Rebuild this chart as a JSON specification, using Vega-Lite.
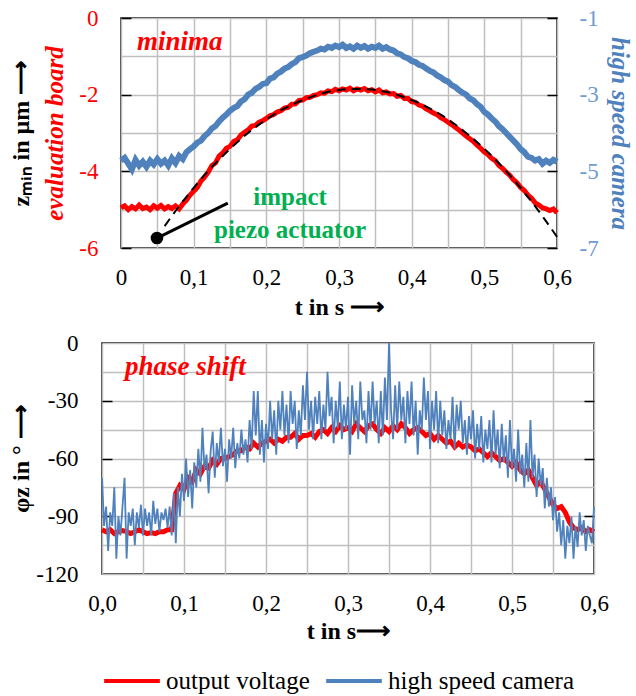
{
"$schema": "https://vega.github.io/schema/vega-lite/v6.json",
"padding": {"left": 8, "top": 6, "right": 2, "bottom": 2},
"config": {
  "font": "Liberation Serif",
  "view": {"stroke": "black", "strokeWidth": 1.5},
  "axis": {"labelFont": "Liberation Serif", "titleFont": "Liberation Serif", "labelFontSize": 23, "titleFontSize": 24, "titleFontWeight": "bold", "labelColor": "black", "titleColor": "black", "domain": false, "gridColor": "#bfbfbf", "gridWidth": 1.5, "gridOpacity": 1, "tickColor": "black", "tickWidth": 1.5, "labelOverlap": false, "labelFlush": false},
  "legend": {"labelFont": "Liberation Serif", "labelFontSize": 25, "labelColor": "black", "labelLimit": 400},
  "text": {"font": "Liberation Serif"}
},
"datasets": {
"redTop": [{"t":0,"v":-4.95},{"t":0.005,"v":-4.9},{"t":0.01,"v":-5.0},{"t":0.015,"v":-4.92},{"t":0.02,"v":-4.98},{"t":0.025,"v":-4.88},{"t":0.03,"v":-4.97},{"t":0.035,"v":-4.93},{"t":0.04,"v":-5.0},{"t":0.045,"v":-4.9},{"t":0.05,"v":-4.96},{"t":0.055,"v":-4.89},{"t":0.06,"v":-4.98},{"t":0.065,"v":-4.92},{"t":0.07,"v":-4.97},{"t":0.075,"v":-4.9},{"t":0.08,"v":-4.98},{"t":0.085,"v":-4.85},{"t":0.09,"v":-4.75},{"t":0.095,"v":-4.62},{"t":0.1,"v":-4.52},{"t":0.105,"v":-4.42},{"t":0.11,"v":-4.25},{"t":0.115,"v":-4.15},{"t":0.12,"v":-4.02},{"t":0.125,"v":-3.85},{"t":0.13,"v":-3.78},{"t":0.135,"v":-3.6},{"t":0.14,"v":-3.52},{"t":0.145,"v":-3.4},{"t":0.15,"v":-3.35},{"t":0.155,"v":-3.22},{"t":0.16,"v":-3.18},{"t":0.165,"v":-3.05},{"t":0.17,"v":-2.98},{"t":0.175,"v":-2.92},{"t":0.18,"v":-2.82},{"t":0.185,"v":-2.8},{"t":0.19,"v":-2.72},{"t":0.195,"v":-2.68},{"t":0.2,"v":-2.62},{"t":0.205,"v":-2.55},{"t":0.21,"v":-2.52},{"t":0.215,"v":-2.45},{"t":0.22,"v":-2.42},{"t":0.225,"v":-2.35},{"t":0.23,"v":-2.33},{"t":0.235,"v":-2.25},{"t":0.24,"v":-2.24},{"t":0.245,"v":-2.15},{"t":0.25,"v":-2.14},{"t":0.255,"v":-2.08},{"t":0.26,"v":-2.07},{"t":0.265,"v":-2.02},{"t":0.27,"v":-2.0},{"t":0.275,"v":-1.95},{"t":0.28,"v":-1.96},{"t":0.285,"v":-1.9},{"t":0.29,"v":-1.92},{"t":0.295,"v":-1.86},{"t":0.3,"v":-1.9},{"t":0.305,"v":-1.85},{"t":0.31,"v":-1.88},{"t":0.315,"v":-1.83},{"t":0.32,"v":-1.9},{"t":0.325,"v":-1.85},{"t":0.33,"v":-1.88},{"t":0.335,"v":-1.84},{"t":0.34,"v":-1.9},{"t":0.345,"v":-1.87},{"t":0.35,"v":-1.93},{"t":0.355,"v":-1.88},{"t":0.36,"v":-1.95},{"t":0.365,"v":-1.93},{"t":0.37,"v":-1.98},{"t":0.375,"v":-1.97},{"t":0.38,"v":-2.04},{"t":0.385,"v":-2.02},{"t":0.39,"v":-2.1},{"t":0.395,"v":-2.1},{"t":0.4,"v":-2.18},{"t":0.405,"v":-2.2},{"t":0.41,"v":-2.27},{"t":0.415,"v":-2.3},{"t":0.42,"v":-2.37},{"t":0.425,"v":-2.42},{"t":0.43,"v":-2.48},{"t":0.435,"v":-2.52},{"t":0.44,"v":-2.6},{"t":0.445,"v":-2.65},{"t":0.45,"v":-2.72},{"t":0.455,"v":-2.78},{"t":0.46,"v":-2.85},{"t":0.465,"v":-2.92},{"t":0.47,"v":-3.0},{"t":0.475,"v":-3.08},{"t":0.48,"v":-3.15},{"t":0.485,"v":-3.22},{"t":0.49,"v":-3.32},{"t":0.495,"v":-3.4},{"t":0.5,"v":-3.5},{"t":0.505,"v":-3.56},{"t":0.51,"v":-3.66},{"t":0.515,"v":-3.72},{"t":0.52,"v":-3.85},{"t":0.525,"v":-3.92},{"t":0.53,"v":-4.02},{"t":0.535,"v":-4.1},{"t":0.54,"v":-4.22},{"t":0.545,"v":-4.3},{"t":0.55,"v":-4.42},{"t":0.555,"v":-4.5},{"t":0.56,"v":-4.62},{"t":0.565,"v":-4.7},{"t":0.57,"v":-4.82},{"t":0.575,"v":-4.88},{"t":0.58,"v":-4.95},{"t":0.585,"v":-4.98},{"t":0.59,"v":-5.02},{"t":0.595,"v":-4.98},{"t":0.6,"v":-5.08}],
"fitTop": [{"t":0.06,"v":-5.43},{"t":0.08,"v":-4.91},{"t":0.1,"v":-4.43},{"t":0.12,"v":-3.99},{"t":0.14,"v":-3.6},{"t":0.16,"v":-3.24},{"t":0.18,"v":-2.92},{"t":0.2,"v":-2.65},{"t":0.22,"v":-2.41},{"t":0.24,"v":-2.22},{"t":0.26,"v":-2.07},{"t":0.28,"v":-1.95},{"t":0.3,"v":-1.88},{"t":0.32,"v":-1.85},{"t":0.34,"v":-1.86},{"t":0.36,"v":-1.91},{"t":0.38,"v":-2.0},{"t":0.4,"v":-2.14},{"t":0.42,"v":-2.31},{"t":0.44,"v":-2.52},{"t":0.46,"v":-2.78},{"t":0.48,"v":-3.08},{"t":0.5,"v":-3.41},{"t":0.52,"v":-3.79},{"t":0.54,"v":-4.21},{"t":0.56,"v":-4.67},{"t":0.58,"v":-5.17},{"t":0.6,"v":-5.71}],
"blueTop": [{"t":0,"v":-4.72},{"t":0.005,"v":-4.65},{"t":0.01,"v":-4.8},{"t":0.015,"v":-4.95},{"t":0.02,"v":-4.7},{"t":0.025,"v":-4.85},{"t":0.03,"v":-4.75},{"t":0.035,"v":-4.88},{"t":0.04,"v":-4.72},{"t":0.045,"v":-4.82},{"t":0.05,"v":-4.68},{"t":0.055,"v":-4.8},{"t":0.06,"v":-4.72},{"t":0.065,"v":-4.85},{"t":0.07,"v":-4.66},{"t":0.075,"v":-4.78},{"t":0.08,"v":-4.6},{"t":0.085,"v":-4.68},{"t":0.09,"v":-4.5},{"t":0.095,"v":-4.42},{"t":0.1,"v":-4.35},{"t":0.105,"v":-4.25},{"t":0.11,"v":-4.2},{"t":0.115,"v":-4.08},{"t":0.12,"v":-4.0},{"t":0.125,"v":-3.88},{"t":0.13,"v":-3.82},{"t":0.135,"v":-3.7},{"t":0.14,"v":-3.6},{"t":0.145,"v":-3.52},{"t":0.15,"v":-3.42},{"t":0.155,"v":-3.35},{"t":0.16,"v":-3.3},{"t":0.165,"v":-3.18},{"t":0.17,"v":-3.12},{"t":0.175,"v":-3.0},{"t":0.18,"v":-2.95},{"t":0.185,"v":-2.85},{"t":0.19,"v":-2.8},{"t":0.195,"v":-2.72},{"t":0.2,"v":-2.7},{"t":0.205,"v":-2.58},{"t":0.21,"v":-2.55},{"t":0.215,"v":-2.45},{"t":0.22,"v":-2.4},{"t":0.225,"v":-2.32},{"t":0.23,"v":-2.28},{"t":0.235,"v":-2.2},{"t":0.24,"v":-2.15},{"t":0.245,"v":-2.05},{"t":0.25,"v":-2.02},{"t":0.255,"v":-1.98},{"t":0.26,"v":-1.92},{"t":0.265,"v":-1.88},{"t":0.27,"v":-1.85},{"t":0.275,"v":-1.8},{"t":0.28,"v":-1.82},{"t":0.285,"v":-1.75},{"t":0.29,"v":-1.78},{"t":0.295,"v":-1.72},{"t":0.3,"v":-1.76},{"t":0.305,"v":-1.7},{"t":0.31,"v":-1.78},{"t":0.315,"v":-1.74},{"t":0.32,"v":-1.8},{"t":0.325,"v":-1.72},{"t":0.33,"v":-1.78},{"t":0.335,"v":-1.73},{"t":0.34,"v":-1.8},{"t":0.345,"v":-1.75},{"t":0.35,"v":-1.78},{"t":0.355,"v":-1.72},{"t":0.36,"v":-1.8},{"t":0.365,"v":-1.76},{"t":0.37,"v":-1.82},{"t":0.375,"v":-1.85},{"t":0.38,"v":-1.92},{"t":0.385,"v":-1.95},{"t":0.39,"v":-2.02},{"t":0.395,"v":-2.05},{"t":0.4,"v":-2.12},{"t":0.405,"v":-2.15},{"t":0.41,"v":-2.22},{"t":0.415,"v":-2.25},{"t":0.42,"v":-2.32},{"t":0.425,"v":-2.38},{"t":0.43,"v":-2.42},{"t":0.435,"v":-2.5},{"t":0.44,"v":-2.55},{"t":0.445,"v":-2.62},{"t":0.45,"v":-2.66},{"t":0.455,"v":-2.75},{"t":0.46,"v":-2.8},{"t":0.465,"v":-2.88},{"t":0.47,"v":-2.95},{"t":0.475,"v":-3.0},{"t":0.48,"v":-3.1},{"t":0.485,"v":-3.15},{"t":0.49,"v":-3.25},{"t":0.495,"v":-3.32},{"t":0.5,"v":-3.45},{"t":0.505,"v":-3.52},{"t":0.51,"v":-3.62},{"t":0.515,"v":-3.7},{"t":0.52,"v":-3.82},{"t":0.525,"v":-3.9},{"t":0.53,"v":-4.0},{"t":0.535,"v":-4.1},{"t":0.54,"v":-4.2},{"t":0.545,"v":-4.3},{"t":0.55,"v":-4.42},{"t":0.555,"v":-4.5},{"t":0.56,"v":-4.62},{"t":0.565,"v":-4.65},{"t":0.57,"v":-4.72},{"t":0.575,"v":-4.68},{"t":0.58,"v":-4.8},{"t":0.585,"v":-4.72},{"t":0.59,"v":-4.78},{"t":0.595,"v":-4.7},{"t":0.6,"v":-4.75}],
"redBot": [{"t":0,"v":-97},{"t":0.005,"v":-98},{"t":0.01,"v":-97},{"t":0.015,"v":-99},{"t":0.02,"v":-98},{"t":0.025,"v":-97.5},{"t":0.03,"v":-98},{"t":0.035,"v":-99},{"t":0.04,"v":-98},{"t":0.045,"v":-97},{"t":0.05,"v":-98},{"t":0.055,"v":-99},{"t":0.06,"v":-98.5},{"t":0.065,"v":-99},{"t":0.07,"v":-98},{"t":0.075,"v":-98},{"t":0.08,"v":-97},{"t":0.085,"v":-97},{"t":0.09,"v":-78},{"t":0.095,"v":-74},{"t":0.1,"v":-76},{"t":0.105,"v":-70},{"t":0.11,"v":-72},{"t":0.115,"v":-66},{"t":0.12,"v":-68},{"t":0.125,"v":-64},{"t":0.13,"v":-65},{"t":0.135,"v":-61},{"t":0.14,"v":-63},{"t":0.145,"v":-60},{"t":0.15,"v":-60},{"t":0.155,"v":-59},{"t":0.16,"v":-58},{"t":0.165,"v":-56},{"t":0.17,"v":-56},{"t":0.175,"v":-54},{"t":0.18,"v":-55},{"t":0.185,"v":-52},{"t":0.19,"v":-54},{"t":0.195,"v":-52},{"t":0.2,"v":-51},{"t":0.205,"v":-50},{"t":0.21,"v":-52},{"t":0.215,"v":-50},{"t":0.22,"v":-51},{"t":0.225,"v":-49},{"t":0.23,"v":-49},{"t":0.235,"v":-47},{"t":0.24,"v":-50},{"t":0.245,"v":-48},{"t":0.25,"v":-48},{"t":0.255,"v":-47},{"t":0.26,"v":-49},{"t":0.265,"v":-46},{"t":0.27,"v":-45},{"t":0.275,"v":-47},{"t":0.28,"v":-44},{"t":0.285,"v":-46},{"t":0.29,"v":-43},{"t":0.295,"v":-45},{"t":0.3,"v":-44},{"t":0.305,"v":-46},{"t":0.31,"v":-42},{"t":0.315,"v":-44},{"t":0.32,"v":-46},{"t":0.325,"v":-43},{"t":0.33,"v":-42},{"t":0.335,"v":-45},{"t":0.34,"v":-47},{"t":0.345,"v":-44},{"t":0.35,"v":-46},{"t":0.355,"v":-43},{"t":0.36,"v":-45},{"t":0.365,"v":-42},{"t":0.37,"v":-44},{"t":0.375,"v":-47},{"t":0.38,"v":-45},{"t":0.385,"v":-44},{"t":0.39,"v":-46},{"t":0.395,"v":-48},{"t":0.4,"v":-47},{"t":0.405,"v":-50},{"t":0.41,"v":-48},{"t":0.415,"v":-50},{"t":0.42,"v":-52},{"t":0.425,"v":-51},{"t":0.43,"v":-54},{"t":0.435,"v":-52},{"t":0.44,"v":-54},{"t":0.445,"v":-53},{"t":0.45,"v":-54},{"t":0.455,"v":-56},{"t":0.46,"v":-55},{"t":0.465,"v":-57},{"t":0.47,"v":-59},{"t":0.475,"v":-57},{"t":0.48,"v":-59},{"t":0.485,"v":-61},{"t":0.49,"v":-60},{"t":0.495,"v":-62},{"t":0.5,"v":-64},{"t":0.505,"v":-62},{"t":0.51,"v":-66},{"t":0.515,"v":-68},{"t":0.52,"v":-66},{"t":0.525,"v":-70},{"t":0.53,"v":-74},{"t":0.535,"v":-72},{"t":0.54,"v":-76},{"t":0.545,"v":-80},{"t":0.55,"v":-84},{"t":0.555,"v":-86},{"t":0.56,"v":-85},{"t":0.565,"v":-88},{"t":0.57,"v":-93},{"t":0.575,"v":-96},{"t":0.58,"v":-97},{"t":0.585,"v":-96},{"t":0.59,"v":-98},{"t":0.595,"v":-97},{"t":0.6,"v":-98}],
"blueBot": [{"t":0,"v":-70},{"t":0.0025,"v":-95},{"t":0.005,"v":-85},{"t":0.0075,"v":-108},{"t":0.01,"v":-88},{"t":0.0125,"v":-95},{"t":0.015,"v":-75},{"t":0.0175,"v":-112},{"t":0.02,"v":-90},{"t":0.0225,"v":-100},{"t":0.025,"v":-85},{"t":0.0275,"v":-70},{"t":0.03,"v":-112},{"t":0.0325,"v":-88},{"t":0.035,"v":-95},{"t":0.0375,"v":-86},{"t":0.04,"v":-105},{"t":0.0425,"v":-88},{"t":0.045,"v":-96},{"t":0.0475,"v":-84},{"t":0.05,"v":-100},{"t":0.0525,"v":-86},{"t":0.055,"v":-95},{"t":0.0575,"v":-88},{"t":0.06,"v":-100},{"t":0.0625,"v":-82},{"t":0.065,"v":-94},{"t":0.0675,"v":-86},{"t":0.07,"v":-98},{"t":0.0725,"v":-88},{"t":0.075,"v":-92},{"t":0.0775,"v":-86},{"t":0.08,"v":-96},{"t":0.0825,"v":-85},{"t":0.085,"v":-100},{"t":0.0875,"v":-78},{"t":0.09,"v":-104},{"t":0.0925,"v":-75},{"t":0.095,"v":-90},{"t":0.0975,"v":-68},{"t":0.1,"v":-82},{"t":0.1025,"v":-60},{"t":0.105,"v":-80},{"t":0.1075,"v":-66},{"t":0.11,"v":-86},{"t":0.1125,"v":-62},{"t":0.115,"v":-75},{"t":0.1175,"v":-55},{"t":0.12,"v":-72},{"t":0.1225,"v":-44},{"t":0.125,"v":-66},{"t":0.1275,"v":-58},{"t":0.13,"v":-78},{"t":0.1325,"v":-56},{"t":0.135,"v":-46},{"t":0.1375,"v":-70},{"t":0.14,"v":-52},{"t":0.1425,"v":-62},{"t":0.145,"v":-44},{"t":0.1475,"v":-64},{"t":0.15,"v":-55},{"t":0.1525,"v":-72},{"t":0.155,"v":-50},{"t":0.1575,"v":-60},{"t":0.16,"v":-44},{"t":0.1625,"v":-65},{"t":0.165,"v":-52},{"t":0.1675,"v":-60},{"t":0.17,"v":-45},{"t":0.1725,"v":-58},{"t":0.175,"v":-50},{"t":0.1775,"v":-62},{"t":0.18,"v":-40},{"t":0.1825,"v":-55},{"t":0.185,"v":-25},{"t":0.1875,"v":-48},{"t":0.19,"v":-25},{"t":0.1925,"v":-58},{"t":0.195,"v":-40},{"t":0.1975,"v":-62},{"t":0.2,"v":-42},{"t":0.2025,"v":-55},{"t":0.205,"v":-30},{"t":0.2075,"v":-50},{"t":0.21,"v":-35},{"t":0.2125,"v":-58},{"t":0.215,"v":-30},{"t":0.2175,"v":-45},{"t":0.22,"v":-25},{"t":0.2225,"v":-48},{"t":0.225,"v":-32},{"t":0.2275,"v":-52},{"t":0.23,"v":-25},{"t":0.2325,"v":-42},{"t":0.235,"v":-30},{"t":0.2375,"v":-55},{"t":0.24,"v":-35},{"t":0.2425,"v":-48},{"t":0.245,"v":-22},{"t":0.2475,"v":-40},{"t":0.25,"v":-15},{"t":0.2525,"v":-45},{"t":0.255,"v":-30},{"t":0.2575,"v":-50},{"t":0.26,"v":-28},{"t":0.2625,"v":-42},{"t":0.265,"v":-25},{"t":0.2675,"v":-50},{"t":0.27,"v":-32},{"t":0.2725,"v":-45},{"t":0.275,"v":-15},{"t":0.2775,"v":-38},{"t":0.28,"v":-28},{"t":0.2825,"v":-52},{"t":0.285,"v":-30},{"t":0.2875,"v":-44},{"t":0.29,"v":-20},{"t":0.2925,"v":-50},{"t":0.295,"v":-32},{"t":0.2975,"v":-45},{"t":0.3,"v":-28},{"t":0.3025,"v":-58},{"t":0.305,"v":-22},{"t":0.3075,"v":-42},{"t":0.31,"v":-30},{"t":0.3125,"v":-50},{"t":0.315,"v":-20},{"t":0.3175,"v":-40},{"t":0.32,"v":-35},{"t":0.3225,"v":-52},{"t":0.325,"v":-25},{"t":0.3275,"v":-45},{"t":0.33,"v":-20},{"t":0.3325,"v":-42},{"t":0.335,"v":-30},{"t":0.3375,"v":-52},{"t":0.34,"v":-25},{"t":0.3425,"v":-48},{"t":0.345,"v":-18},{"t":0.3475,"v":-40},{"t":0.35,"v":0},{"t":0.3525,"v":-35},{"t":0.355,"v":-50},{"t":0.3575,"v":-22},{"t":0.36,"v":-45},{"t":0.3625,"v":-20},{"t":0.365,"v":-40},{"t":0.3675,"v":-28},{"t":0.37,"v":-52},{"t":0.3725,"v":-25},{"t":0.375,"v":-42},{"t":0.3775,"v":-20},{"t":0.38,"v":-48},{"t":0.3825,"v":-30},{"t":0.385,"v":-58},{"t":0.3875,"v":-35},{"t":0.39,"v":-45},{"t":0.3925,"v":-18},{"t":0.395,"v":-40},{"t":0.3975,"v":-25},{"t":0.4,"v":-55},{"t":0.4025,"v":-30},{"t":0.405,"v":-45},{"t":0.4075,"v":-25},{"t":0.41,"v":-52},{"t":0.4125,"v":-30},{"t":0.415,"v":-48},{"t":0.4175,"v":-35},{"t":0.42,"v":-55},{"t":0.4225,"v":-40},{"t":0.425,"v":-50},{"t":0.4275,"v":-28},{"t":0.43,"v":-55},{"t":0.4325,"v":-32},{"t":0.435,"v":-45},{"t":0.4375,"v":-30},{"t":0.44,"v":-52},{"t":0.4425,"v":-40},{"t":0.445,"v":-58},{"t":0.4475,"v":-38},{"t":0.45,"v":-50},{"t":0.4525,"v":-35},{"t":0.455,"v":-60},{"t":0.4575,"v":-42},{"t":0.46,"v":-55},{"t":0.4625,"v":-38},{"t":0.465,"v":-62},{"t":0.4675,"v":-45},{"t":0.47,"v":-55},{"t":0.4725,"v":-40},{"t":0.475,"v":-62},{"t":0.4775,"v":-35},{"t":0.48,"v":-58},{"t":0.4825,"v":-45},{"t":0.485,"v":-65},{"t":0.4875,"v":-42},{"t":0.49,"v":-62},{"t":0.4925,"v":-48},{"t":0.495,"v":-70},{"t":0.4975,"v":-40},{"t":0.5,"v":-65},{"t":0.5025,"v":-55},{"t":0.505,"v":-72},{"t":0.5075,"v":-45},{"t":0.51,"v":-68},{"t":0.5125,"v":-58},{"t":0.515,"v":-75},{"t":0.5175,"v":-52},{"t":0.52,"v":-72},{"t":0.5225,"v":-40},{"t":0.525,"v":-70},{"t":0.5275,"v":-58},{"t":0.53,"v":-80},{"t":0.5325,"v":-60},{"t":0.535,"v":-74},{"t":0.5375,"v":-65},{"t":0.54,"v":-86},{"t":0.5425,"v":-70},{"t":0.545,"v":-85},{"t":0.5475,"v":-75},{"t":0.55,"v":-92},{"t":0.5525,"v":-80},{"t":0.555,"v":-98},{"t":0.5575,"v":-88},{"t":0.56,"v":-105},{"t":0.5625,"v":-92},{"t":0.565,"v":-112},{"t":0.5675,"v":-95},{"t":0.57,"v":-104},{"t":0.5725,"v":-90},{"t":0.575,"v":-112},{"t":0.5775,"v":-95},{"t":0.58,"v":-106},{"t":0.5825,"v":-88},{"t":0.585,"v":-100},{"t":0.5875,"v":-92},{"t":0.59,"v":-108},{"t":0.5925,"v":-95},{"t":0.595,"v":-100},{"t":0.5975,"v":-104},{"t":0.6,"v":-85}]
},
"vconcat": [
{
  "bounds": "flush",
  "spacing": 0,
  "hconcat": [
    {"width": 19, "height": 10, "view": {"stroke": null}, "data": {"values": [{"k": 1}]}, "mark": {"type": "point", "opacity": 0}, "encoding": {}},
    {
      "width": 436, "height": 230,
      "encoding": {
        "x": {"field": "t", "type": "quantitative", "scale": {"domain": [0, 0.6], "nice": false},
          "axis": {"values": [0,0.05,0.1,0.15,0.2,0.25,0.3,0.35,0.4,0.45,0.5,0.55,0.6], "grid": true, "ticks": false, "labelPadding": 18,
            "labelExpr": "datum.value == 0 ? '0' : (round(datum.value*100) % 10 == 0 ? replace(format(datum.value, '.1f'), '.', ',') : '')",
            "title": "t in s ⟶", "titlePadding": 6}}
      },
      "layer": [
        {
          "encoding": {
            "y": {"field": "v", "type": "quantitative", "scale": {"domain": [-6, 0], "nice": false},
              "axis": {"values": [-6,-5,-4,-3,-2,-1,0], "grid": true, "tickSize": -10,
                "tickOpacity": {"condition": {"test": "datum.value % 2 == 0", "value": 1}, "value": 0},
                "labelPadding": 33, "labelColor": "#ff0000",
                "labelExpr": "datum.value % 2 == 0 ? (datum.value < 0 ? '-' + abs(datum.value) : '' + datum.value) : ''",
                "title": "evaluation board", "titleColor": "#ff0000", "titleFontStyle": "italic", "titleFontSize": 25, "titlePadding": 11}}
          },
          "layer": [
            {"data": {"name": "redTop"}, "mark": {"type": "line", "color": "#ff0000", "strokeWidth": 5}},
            {"data": {"name": "fitTop"}, "mark": {"type": "line", "color": "black", "strokeWidth": 2, "strokeDash": [9, 6], "interpolate": "monotone"}},
            {"data": {"values": [{"t": 0.0495, "v": -5.74}, {"t": 0.147, "v": -4.83}]}, "mark": {"type": "line", "color": "black", "strokeWidth": 3}},
            {"data": {"values": [{"t": 0.0495, "v": -5.74}]}, "mark": {"type": "point", "filled": true, "color": "black", "size": 160, "opacity": 1}},
            {"data": {"values": [{"t": 0.022, "v": -0.63, "label": "minima"}]}, "mark": {"type": "text", "color": "#ff0000", "fontSize": 27, "fontWeight": "bold", "fontStyle": "italic", "align": "left", "baseline": "middle"}, "encoding": {"text": {"field": "label"}}},
            {"data": {"values": [{"t": 0.2326, "v": -4.67, "label": "impact"}, {"t": 0.2326, "v": -5.53, "label": "piezo actuator"}]}, "mark": {"type": "text", "color": "#00b050", "fontSize": 25, "fontWeight": "bold", "align": "center", "baseline": "middle"}, "encoding": {"text": {"field": "label"}}}
          ]
        },
        {
          "data": {"name": "blueTop"},
          "mark": {"type": "line", "color": "#4f81bd", "strokeWidth": 6},
          "encoding": {
            "y": {"field": "v", "type": "quantitative", "scale": {"domain": [-7, -1], "nice": false},
              "axis": {"orient": "right", "values": [-7,-5,-3,-1], "grid": false, "tickSize": -10, "labelPadding": 32, "labelColor": "#6f9bd3",
                "labelExpr": "'-' + abs(datum.value)",
                "title": "high speed camera", "titleColor": "#4f81bd", "titleFontStyle": "italic", "titleFontSize": 25, "titlePadding": 8}}
          }
        },
        {
          "data": {"values": [{"t": 0.3, "v": -3}]},
          "mark": {"type": "point", "opacity": 0},
          "encoding": {
            "y": {"field": "v", "type": "quantitative", "scale": {"domain": [-6, 0], "nice": false},
              "axis": {"orient": "left", "labels": false, "ticks": false, "grid": false, "title": "zₘᵢₙ in µm ⟶", "titlePadding": 88}}
          }
        }
      ],
      "resolve": {"scale": {"y": "independent"}, "axis": {"y": "independent"}}
    }
  ]
},
{
  "width": 492, "height": 231,
  "encoding": {
    "x": {"field": "t", "type": "quantitative", "scale": {"domain": [0, 0.6], "nice": false},
      "axis": {"values": [0,0.05,0.1,0.15,0.2,0.25,0.3,0.35,0.4,0.45,0.5,0.55,0.6], "grid": true, "ticks": false, "labelPadding": 18,
        "labelExpr": "round(datum.value*100) % 10 == 0 ? replace(format(datum.value, '.1f'), '.', ',') : ''",
        "title": "t in s⟶", "titlePadding": 4}}
  },
  "layer": [
    {
      "encoding": {
        "y": {"field": "v", "type": "quantitative", "scale": {"domain": [-120, 0], "nice": false},
          "axis": {"values": [-120,-105,-90,-75,-60,-45,-30,-15,0], "grid": true, "ticks": false,
            "labelPadding": 24,
            "labelExpr": "datum.value % 30 == 0 ? (datum.value < 0 ? '-' + abs(datum.value) : '' + datum.value) : ''",
            "title": "φz in ° ⟶", "titlePadding": 2}}
      },
      "layer": [
        {"data": {"name": "redBot"}, "mark": {"type": "line", "strokeWidth": 5},
          "encoding": {"color": {"datum": "output voltage", "scale": {"domain": ["output voltage", "high speed camera"], "range": ["#ff0000", "#4f81bd"]},
            "legend": {"orient": "bottom", "direction": "horizontal", "title": null, "symbolType": "M-1,0H1", "symbolSize": 3100, "symbolStrokeWidth": 4, "labelOffset": 4, "columnPadding": 8, "offset": 7}}}},
        {"data": {"name": "blueBot"}, "mark": {"type": "line", "strokeWidth": 1.8},
          "encoding": {"color": {"datum": "high speed camera"}}},
        {"data": {"values": [{"t": 0.028, "v": -12.5, "label": "phase shift"}]}, "mark": {"type": "text", "color": "#ff0000", "fontSize": 27, "fontWeight": "bold", "fontStyle": "italic", "align": "left", "baseline": "middle"}, "encoding": {"text": {"field": "label"}}}
      ]
    },
    {
      "data": {"values": [{"t": 0.3, "v": -60}]},
      "mark": {"type": "point", "opacity": 0},
      "encoding": {"y": {"field": "v", "type": "quantitative", "scale": {"domain": [-120, 0], "nice": false},
        "axis": {"orient": "left", "values": [-90, -60, -30], "labels": false, "grid": false, "tickSize": -10, "title": null}}}
    },
    {
      "data": {"values": [{"t": 0.3, "v": -60}]},
      "mark": {"type": "point", "opacity": 0},
      "encoding": {"y": {"field": "v", "type": "quantitative", "scale": {"domain": [-120, 0], "nice": false},
        "axis": {"orient": "right", "values": [-90, -60, -30], "labels": false, "grid": false, "tickSize": -10, "title": null}}}
    }
  ],
  "resolve": {"scale": {"y": "independent"}, "axis": {"y": "independent"}}
}
],
"spacing": 11
}
